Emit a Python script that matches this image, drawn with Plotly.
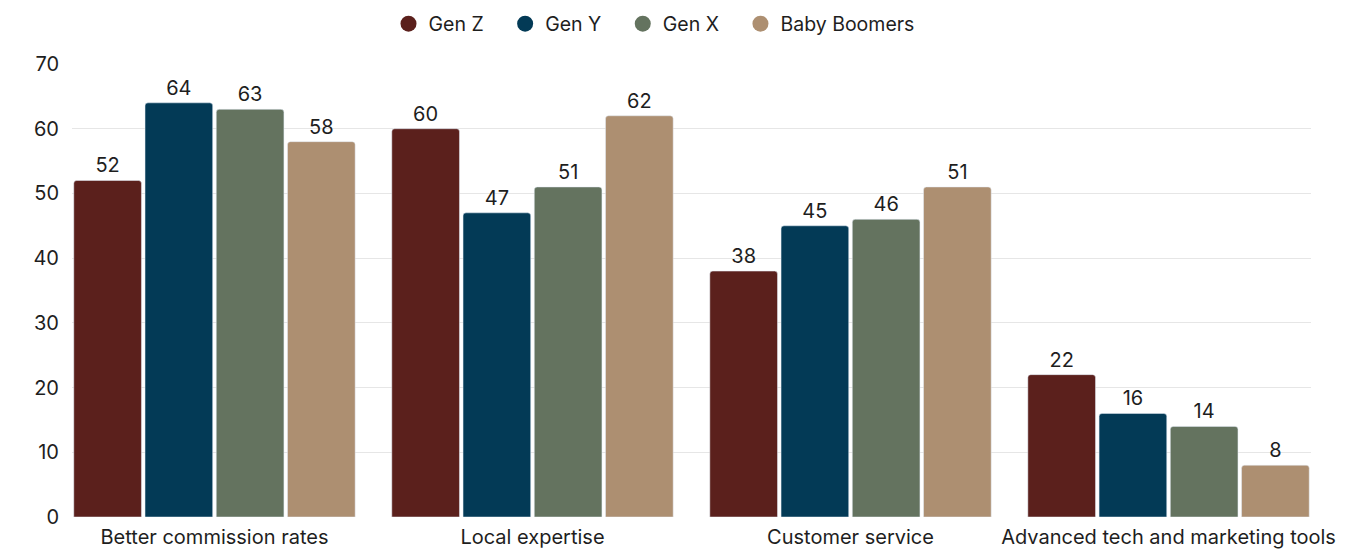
import plotly.graph_objects as go

categories = ["Better commission rates", "Local expertise", "Customer service", "Advanced tech and marketing tools"]
series_names = ["Gen Z", "Gen Y", "Gen X", "Baby Boomers"]
gen_z = [52, 60, 38, 22]
gen_y = [64, 47, 45, 16]
gen_x = [63, 51, 46, 14]
boomers = [58, 62, 51, 8]
colors = ["#5b201c", "#033a56", "#64735f", "#ad8f71"]
y_ticks = [0, 10, 20, 30, 40, 50, 60, 70]

FONT = "Inter, Lato, Roboto, sans-serif"
TXT = "#1e1e1e"
fig = go.Figure()
for name, vals, col in zip(series_names, [gen_z, gen_y, gen_x, boomers], colors):
    fig.add_trace(go.Bar(
        x=categories, y=vals, name=name, marker_color=col,
        text=[str(v) for v in vals], textposition="outside",
        textfont=dict(size=20, color=TXT, family=FONT),
        cliponaxis=False, showlegend=False,
    ))
NB = "\u00a0"
for i, (name, col) in enumerate(zip(series_names, colors)):
    pad = NB * 3 if i < len(series_names) - 1 else ""
    fig.add_trace(go.Scatter(
        x=[None], y=[None], mode="markers", name=name + pad,
        marker=dict(symbol="circle", size=20, color=col),
        showlegend=True,
    ))

g = 0.104
fig.update_layout(
    width=1348, height=541,
    margin=dict(l=64, r=45, t=56, b=32, autoexpand=False),
    paper_bgcolor="white", plot_bgcolor="white",
    barmode="group", bargap=g, bargroupgap=0.05, barcornerradius=3,
    font=dict(family=FONT, size=20, color=TXT),
    legend=dict(orientation="h", x=(674 - 28) / 1348, xref="container", xanchor="center",
                y=1 - 16 / 541, yanchor="middle",
                yref="container", font=dict(size=19.5, color=TXT),
                itemsizing="trace", traceorder="normal"),
    xaxis=dict(range=[-(1 - g) / 2, 3 + (1 - g) / 2], showgrid=False, showline=False,
               ticks="", automargin=False, ticklabelstandoff=6,
               tickfont=dict(size=20, color=TXT)),
    yaxis=dict(range=[0, 70], tickvals=y_ticks, showgrid=True, gridcolor="#e6e6e6",
               gridwidth=1, zeroline=False, showline=False, ticks="", automargin=False,
               ticklabelstandoff=12, tickfont=dict(size=20, color=TXT)),
)
fig.write_html("out.html")
